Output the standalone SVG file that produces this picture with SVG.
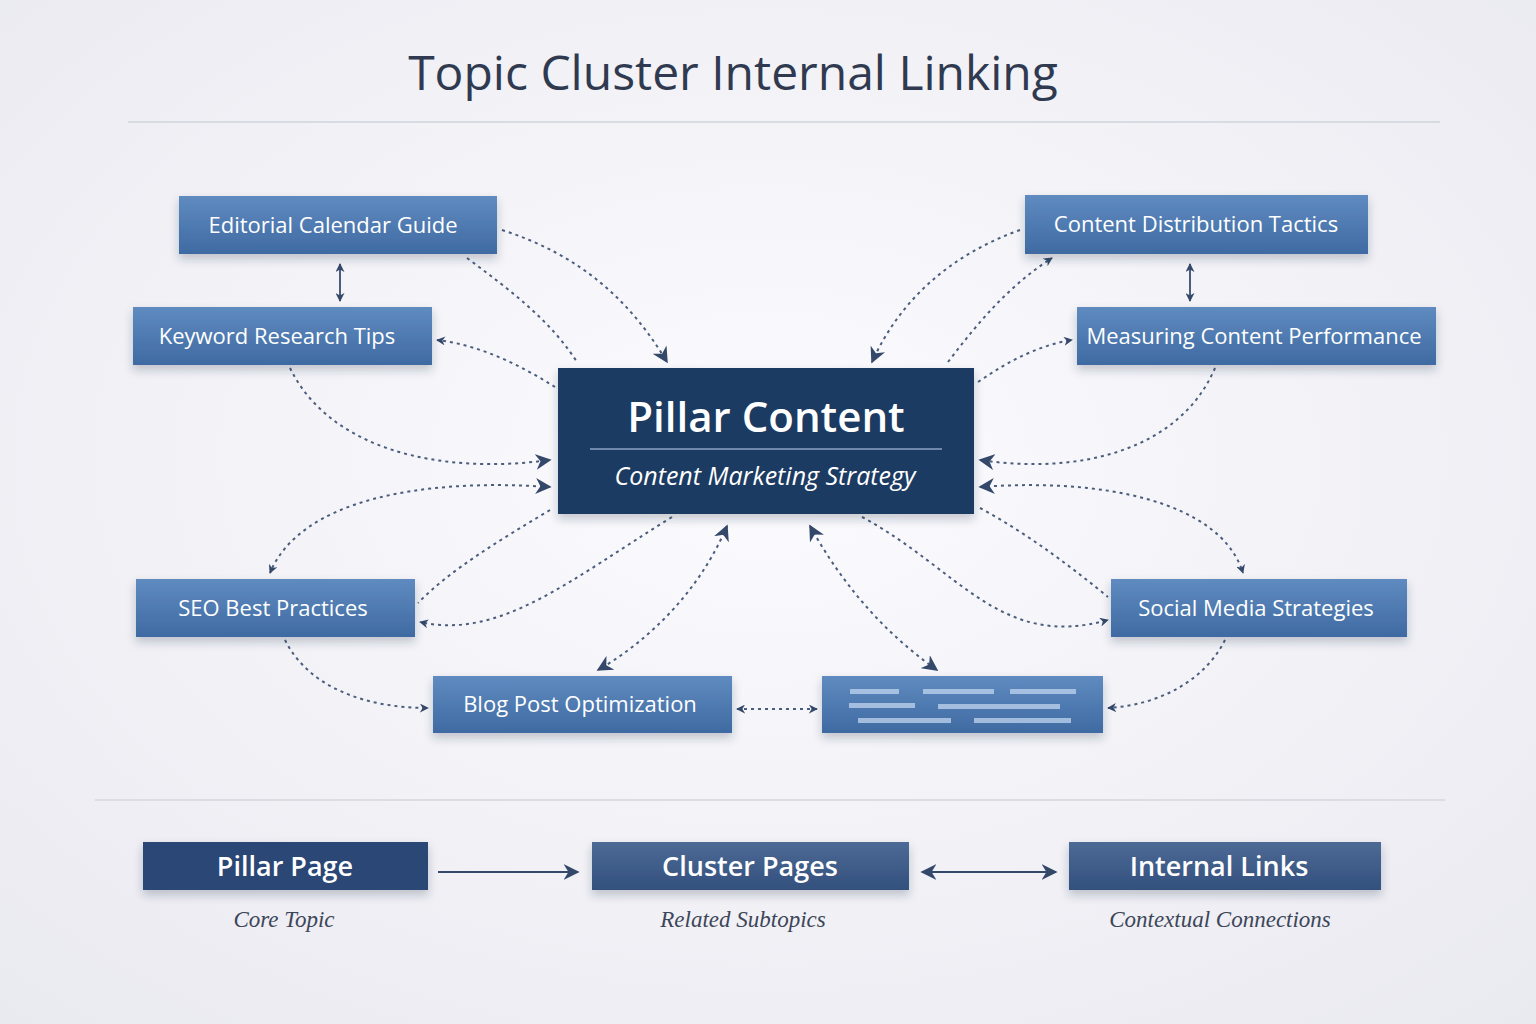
<svg xmlns="http://www.w3.org/2000/svg" width="1536" height="1024" viewBox="0 0 1536 1024">
<style>
.n{fill:url(#nb);filter:url(#sh)}
.t{font-family:"Open Sans","Liberation Sans",sans-serif;font-size:22px;fill:#fff;text-anchor:middle}
.c{fill:none;stroke:#4a5d7c;stroke-width:2;stroke-dasharray:3 4;marker-end:url(#ah)}
.d{marker-start:url(#ah)}
.x{marker-end:none}
.lg{fill:url(#lb);filter:url(#sh)}
.lt{font-family:"Open Sans","Liberation Sans",sans-serif;font-size:27px;font-weight:600;fill:#fff;text-anchor:middle}
.ls{font-family:"Liberation Serif",serif;font-style:italic;font-size:23px;fill:#3c4658;text-anchor:middle}
.bar{fill:#b9d0ea;opacity:.8}
</style>
<defs>
<radialGradient id="bg" cx="50%" cy="45%" r="75%"><stop offset="0" stop-color="#fcfbfe"/><stop offset="1" stop-color="#e9e9f0"/></radialGradient>
<linearGradient id="nb" x1="0" y1="0" x2="0" y2="1"><stop offset="0" stop-color="#5f8bc0"/><stop offset="1" stop-color="#3f6aa2"/></linearGradient>
<linearGradient id="lb" x1="0" y1="0" x2="0" y2="1"><stop offset="0" stop-color="#4d6a95"/><stop offset="1" stop-color="#33507d"/></linearGradient>
<filter id="sh" x="-10%" y="-20%" width="120%" height="160%"><feDropShadow dx="0" dy="5" stdDeviation="5" flood-color="#1c2a44" flood-opacity="0.25"/></filter>
<marker id="ah" viewBox="0 0 10 10" refX="9" refY="5" markerWidth="9" markerHeight="9" orient="auto-start-reverse" markerUnits="userSpaceOnUse"><path d="M0,0 L10,5 L0,10 L3,5z" fill="#34486a"/></marker>
<marker id="as" viewBox="0 0 10 10" refX="9" refY="5" markerWidth="16" markerHeight="16" orient="auto-start-reverse" markerUnits="userSpaceOnUse"><path d="M0,0 L10,5 L0,10 L3,5z" fill="#34486a"/></marker>
</defs>
<rect width="1536" height="1024" fill="url(#bg)"/>
<text x="733" y="90" font-family="'Open Sans','Liberation Sans',sans-serif" font-size="48" fill="#2f3a50" text-anchor="middle">Topic Cluster Internal Linking</text>
<line x1="128" y1="122" x2="1440" y2="122" stroke="#d9dbe3" stroke-width="2"/>
<line x1="95" y1="800" x2="1445" y2="800" stroke="#dcdde4" stroke-width="2"/>

<g id="connectors">
<g style="--m:1">
<path class="c" style="marker-end:url(#as)" d="M502,230 C580,255 630,300 667,362"/>
<path class="c x" d="M467,258 C510,290 550,320 577,362"/>
<path d="M340,264 V301" stroke="#4a5d7c" stroke-width="2" fill="none" marker-start="url(#ah)" marker-end="url(#ah)"/>
<path class="c" d="M555,387 C520,365 480,345 437,340"/>
<path class="c" style="marker-end:url(#as)" d="M290,368 C330,450 440,475 550,460"/>
<path class="c" style="marker-start:url(#as);marker-end:url(#ah)" d="M550,487 C420,478 300,500 270,573"/>
<path class="c x" d="M550,510 C500,540 450,570 418,603"/>
<path class="c" d="M672,517 C570,580 500,640 420,622"/>
<path class="c" d="M285,640 C310,690 370,708 428,708"/>
<path class="c" style="marker-start:url(#as);marker-end:url(#as)" d="M727,526 C700,590 650,640 598,670"/>
<path class="c" style="marker-start:url(#ah);marker-end:url(#ah)" d="M737,709 H817"/>
<path class="c" style="marker-start:url(#as);marker-end:url(#as)" d="M810,526 C840,580 880,630 937,670"/>
<path class="c" d="M862,517 C960,570 1000,650 1108,620"/>
<path class="c x" d="M980,508 C1030,535 1075,570 1108,597"/>
<path class="c" style="marker-start:url(#as);marker-end:url(#ah)" d="M980,487 C1100,478 1220,500 1243,573"/>
<path class="c" d="M1225,640 C1205,680 1160,705 1108,708"/>
<path class="c" style="marker-end:url(#as)" d="M1215,368 C1180,450 1080,475 980,460"/>
<path class="c" d="M978,382 C1010,360 1040,345 1072,340"/>
<path d="M1190,264 V301" stroke="#4a5d7c" stroke-width="2" fill="none" marker-start="url(#ah)" marker-end="url(#ah)"/>
<path class="c" d="M948,362 C980,320 1010,285 1052,258"/>
<path class="c" style="marker-end:url(#as)" d="M1020,230 C950,255 900,300 872,362"/>
</g>
<path d="M438,872 H578" stroke="#34486a" stroke-width="2" fill="none" marker-end="url(#as)"/>
<path d="M922,872 H1056" stroke="#34486a" stroke-width="2" fill="none" marker-start="url(#as)" marker-end="url(#as)"/>
</g>

<g id="editorial"><rect class="n" x="179" y="196" width="318" height="58"/><text class="t" x="333" y="233">Editorial Calendar Guide</text></g>
<g id="keyword"><rect class="n" x="133" y="307" width="299" height="58"/><text class="t" x="277" y="344">Keyword Research Tips</text></g>
<g id="distribution"><rect class="n" x="1025" y="195" width="343" height="59"/><text class="t" x="1196" y="232">Content Distribution Tactics</text></g>
<g id="measuring"><rect class="n" x="1077" y="307" width="359" height="58"/><text class="t" x="1254" y="344">Measuring Content Performance</text></g>
<g id="seo"><rect class="n" x="136" y="579" width="279" height="58"/><text class="t" x="273" y="616">SEO Best Practices</text></g>
<g id="social"><rect class="n" x="1111" y="579" width="296" height="58"/><text class="t" x="1256" y="616">Social Media Strategies</text></g>
<g id="blog"><rect class="n" x="433" y="676" width="299" height="57"/><text class="t" x="580" y="712">Blog Post Optimization</text></g>
<g id="placeholder"><rect class="n" x="822" y="676" width="281" height="57"/>
<rect class="bar" x="850" y="689" width="49" height="5"/><rect class="bar" x="923" y="689" width="71" height="5"/><rect class="bar" x="1010" y="689" width="66" height="5"/>
<rect class="bar" x="849" y="703" width="66" height="5"/><rect class="bar" x="938" y="704" width="122" height="5"/>
<rect class="bar" x="858" y="718" width="93" height="5"/><rect class="bar" x="974" y="718" width="97" height="5"/></g>
<g id="pillar"><rect x="558" y="368" width="416" height="146" fill="#1f3b62" filter="url(#sh)"/>
<text x="766" y="432" font-family="'Open Sans','Liberation Sans',sans-serif" font-size="42" font-weight="600" fill="#fff" text-anchor="middle">Pillar Content</text>
<line x1="590" y1="449" x2="942" y2="449" stroke="#8aa2c4" stroke-width="1.5"/>
<text x="765" y="485" font-family="'Open Sans','Liberation Sans',sans-serif" font-style="italic" font-size="25" fill="#fff" text-anchor="middle">Content Marketing Strategy</text></g>

<g id="legend-pillar"><rect class="lg" x="143" y="842" width="285" height="48" fill="#2a4470" style="fill:#2b4674"/><text class="lt" x="285" y="876">Pillar Page</text><text class="ls" x="284" y="927">Core Topic</text></g>
<g id="legend-cluster"><rect class="lg" x="592" y="842" width="317" height="48"/><text class="lt" x="750" y="876">Cluster Pages</text><text class="ls" x="743" y="927">Related Subtopics</text></g>
<g id="legend-links"><rect class="lg" x="1069" y="842" width="312" height="48"/><text class="lt" x="1219" y="876">Internal Links</text><text class="ls" x="1220" y="927">Contextual Connections</text></g>
</svg>
